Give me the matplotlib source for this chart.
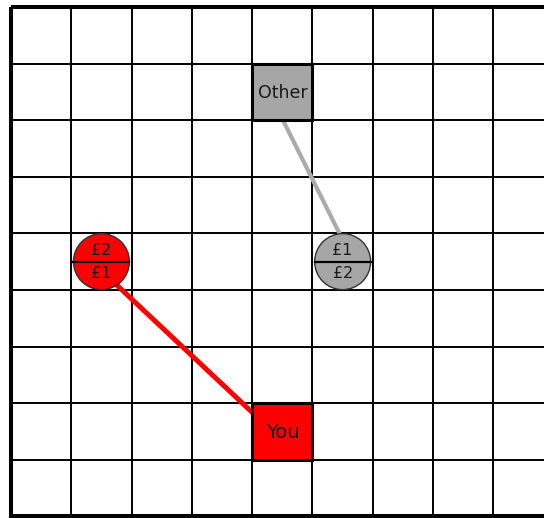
import matplotlib
matplotlib.use("Agg")
import matplotlib.pyplot as plt
from matplotlib.patches import Rectangle, Ellipse

# ---- data ----
n_cols = 9
n_rows = 9
player_labels = ["You", "Other"]
player_cols = [4, 4]
player_rows = [7, 1]
player_colors = ["#FF0000", "#A6A6A6"]
player_fontsizes = [14, 12.5]

coin_cols = [1, 5]
coin_rows = [4, 4]
coin_top = ["£2", "£1"]
coin_bottom = ["£1", "£2"]
coin_colors = ["#FF0000", "#A6A6A6"]

# ---- figure geometry ----
W, H = 544, 518
dpi = 100
px_col = 60.3   # pixel width of a grid cell
px_row = 56.59  # pixel height of a grid cell
x0_px, y0_px = 11, 7

fig = plt.figure(figsize=(W / dpi, H / dpi), dpi=dpi)
ax = fig.add_axes([0, 0, 1, 1])
ax.set_xlim(-x0_px / px_col, (W - x0_px) / px_col)
ax.set_ylim((H - y0_px) / px_row, -y0_px / px_row)
ax.axis("off")

# grid
for c in range(1, n_cols):
    ax.plot([c, c], [0, n_rows], color="black", lw=1.4, zorder=1)
for r in range(1, n_rows):
    ax.plot([0, n_cols], [r, r], color="black", lw=1.4, zorder=1)
ax.add_patch(Rectangle((0, 0), n_cols, n_rows, fill=False, ec="black",
                       lw=2.9, zorder=2))

# connecting lines (drawn under the shapes)
# red: coin 0 -> You (player 0)
ax.plot([coin_cols[0] + 0.587, player_cols[0] + 0.075],
        [coin_rows[0] + 0.746, player_rows[0] + 0.239],
        color=coin_colors[0], lw=3.6, zorder=3, solid_capstyle="butt")
# gray: Other (player 1) -> coin 1
ax.plot([player_cols[1] + 0.51, coin_cols[1] + 0.47],
        [player_rows[1] + 1.0, coin_rows[1] + 0.05],
        color="#ABABAB", lw=3.0, zorder=3, solid_capstyle="butt")

# players (boxes)
for lab, c, r, col, fs in zip(player_labels, player_cols, player_rows,
                              player_colors, player_fontsizes):
    ax.add_patch(Rectangle((c, r), 1, 1, fc=col, ec="black", lw=2.2, zorder=5))
    ax.text(c + 0.5, r + 0.52, lab, ha="center", va="center", fontsize=fs,
            color="#1a1a1a", zorder=6)

# coins (circles split in half)
diam_px = 56
for c, r, t, b, col in zip(coin_cols, coin_rows, coin_top, coin_bottom, coin_colors):
    cx, cy = c + 0.5, r + 0.5
    w = diam_px / px_col
    h = diam_px / px_row
    ax.add_patch(Ellipse((cx, cy), w, h, fc=col, ec="#333333", lw=1.0, zorder=5))
    ax.plot([cx - w / 2, cx + w / 2], [cy, cy], color="black", lw=1.6, zorder=6)
    ax.text(cx, cy - 0.19, t, ha="center", va="center", fontsize=11.5,
            color="#1a1a1a", zorder=7)
    ax.text(cx, cy + 0.21, b, ha="center", va="center", fontsize=11.5,
            color="#1a1a1a", zorder=7)

fig.savefig("out.png", dpi=dpi)
